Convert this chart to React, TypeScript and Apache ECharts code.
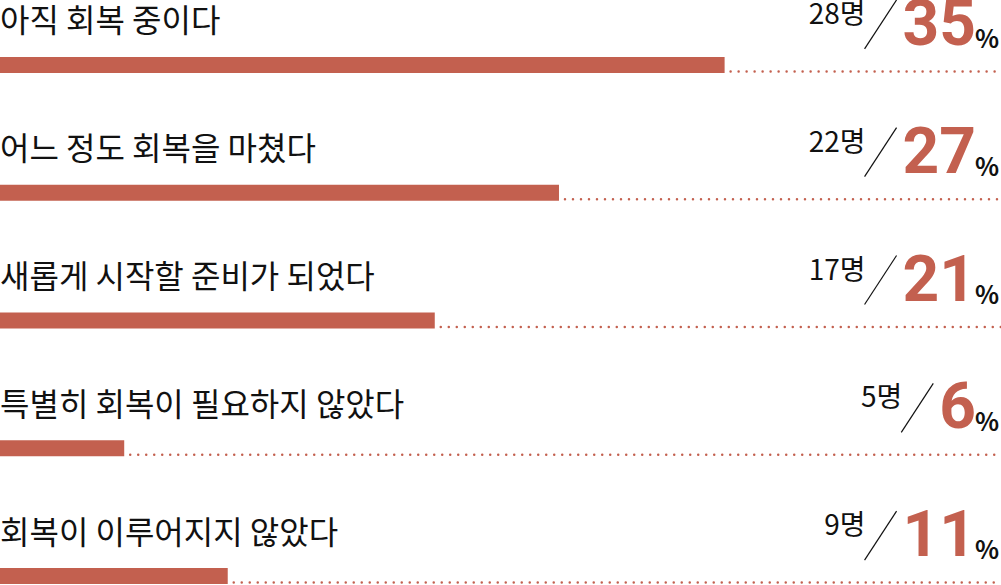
import React, { useEffect, useRef } from "react";
import * as echarts from "echarts";

const categories = [
  "아직 회복 중이다",
  "어느 정도 회복을 마쳤다",
  "새롭게 시작할 준비가 되었다",
  "특별히 회복이 필요하지 않았다",
  "회복이 이루어지지 않았다",
];
const percents = [35, 27, 21, 6, 11];
const counts = [28, 22, 17, 5, 9];
const countUnit = "명";
const percentUnit = "%";
const axisMax = 48.35;

const RED = "#c3604f";
const INK = "#111111";
const FONT = "'Noto Sans CJK KR', 'Noto Sans', sans-serif";
const NUM_FONT = "Roboto, 'Noto Sans', sans-serif";

function measure(text: string, font: string): number {
  const ctx = document.createElement("canvas").getContext("2d");
  if (!ctx) return text.length * 30;
  ctx.font = font;
  return ctx.measureText(text).width;
}

export default function App() {
  const ref = useRef<HTMLDivElement>(null);

  useEffect(() => {
    if (!ref.current) return;
    const chart = echarts.init(ref.current, undefined, { renderer: "svg" });
    const numSize = 64;
    const numFont = `bold ${numSize}px Roboto`;

    const option: any = {
      animation: false,
      grid: { left: 0, right: 0, top: 1, bottom: 0, containLabel: false },
      xAxis: { type: "value", min: 0, max: axisMax, show: false },
      yAxis: { type: "category", data: categories, inverse: true, show: false },
      series: [
        {
          type: "bar",
          data: percents,
          barWidth: 16,
          itemStyle: { color: RED },
          silent: true,
        },
        {
          type: "custom",
          clip: false,
          silent: true,
          data: percents.map((v, i) => [v, i]),
          renderItem: (params: any, api: any) => {
            const i = params.dataIndex;
            const v = api.value(0);
            const cat = api.value(1);
            const [xEnd, yc] = api.coord([v, cat]);
            const [xMax] = api.coord([axisMax, cat]);
            const numText = String(percents[i]);
            const numRight = 976;
            const numW = measure(numText, numFont);
            const slashRight = numRight - numW + 3 - 9;
            const slashLeft = slashRight - 32;
            return {
              type: "group",
              children: [
                {
                  type: "text",
                  x: 0,
                  y: yc - 46.5,
                  style: {
                    text: categories[i],
                    fontSize: 32,
                    fontFamily: FONT,
                    fill: INK,
                    align: "left",
                    verticalAlign: "middle",
                  },
                },
                {
                  type: "line",
                  shape: { x1: xEnd + 6, y1: yc + 6.5, x2: xMax, y2: yc + 6.5 },
                  style: { stroke: RED, lineWidth: 2.5, lineDash: [0, 8], lineCap: "round" },
                },
                {
                  type: "text",
                  x: 999,
                  y: yc - 28,
                  style: {
                    text: percentUnit,
                    fontSize: 25,
                    fontWeight: "bold",
                    fontFamily: FONT,
                    fill: INK,
                    align: "right",
                    verticalAlign: "middle",
                  },
                },
                {
                  type: "text",
                  x: numRight,
                  y: yc - 41.5,
                  style: {
                    text: numText,
                    fontSize: numSize,
                    fontWeight: "bold",
                    fontFamily: NUM_FONT,
                    fill: RED,
                    align: "right",
                    verticalAlign: "middle",
                  },
                },
                {
                  type: "line",
                  shape: { x1: slashLeft, y1: yc - 16, x2: slashRight, y2: yc - 65 },
                  style: { stroke: INK, lineWidth: 1.2 },
                },
                {
                  type: "text",
                  x: slashLeft + 1,
                  y: yc - 53,
                  style: {
                    text: counts[i] + countUnit,
                    fontSize: 28,
                    fontFamily: FONT,
                    fill: INK,
                    align: "right",
                    verticalAlign: "middle",
                  },
                },
              ],
            };
          },
        },
      ],
    };
    chart.setOption(option);
    return () => chart.dispose();
  }, []);

  return (
    <div
      style={{
        position: "fixed",
        left: 0,
        top: 0,
        width: 1001,
        height: 585,
        overflow: "hidden",
        background: "#fff",
      }}
    >
      <div ref={ref} style={{ width: 1001, height: 640 }} />
    </div>
  );
}
